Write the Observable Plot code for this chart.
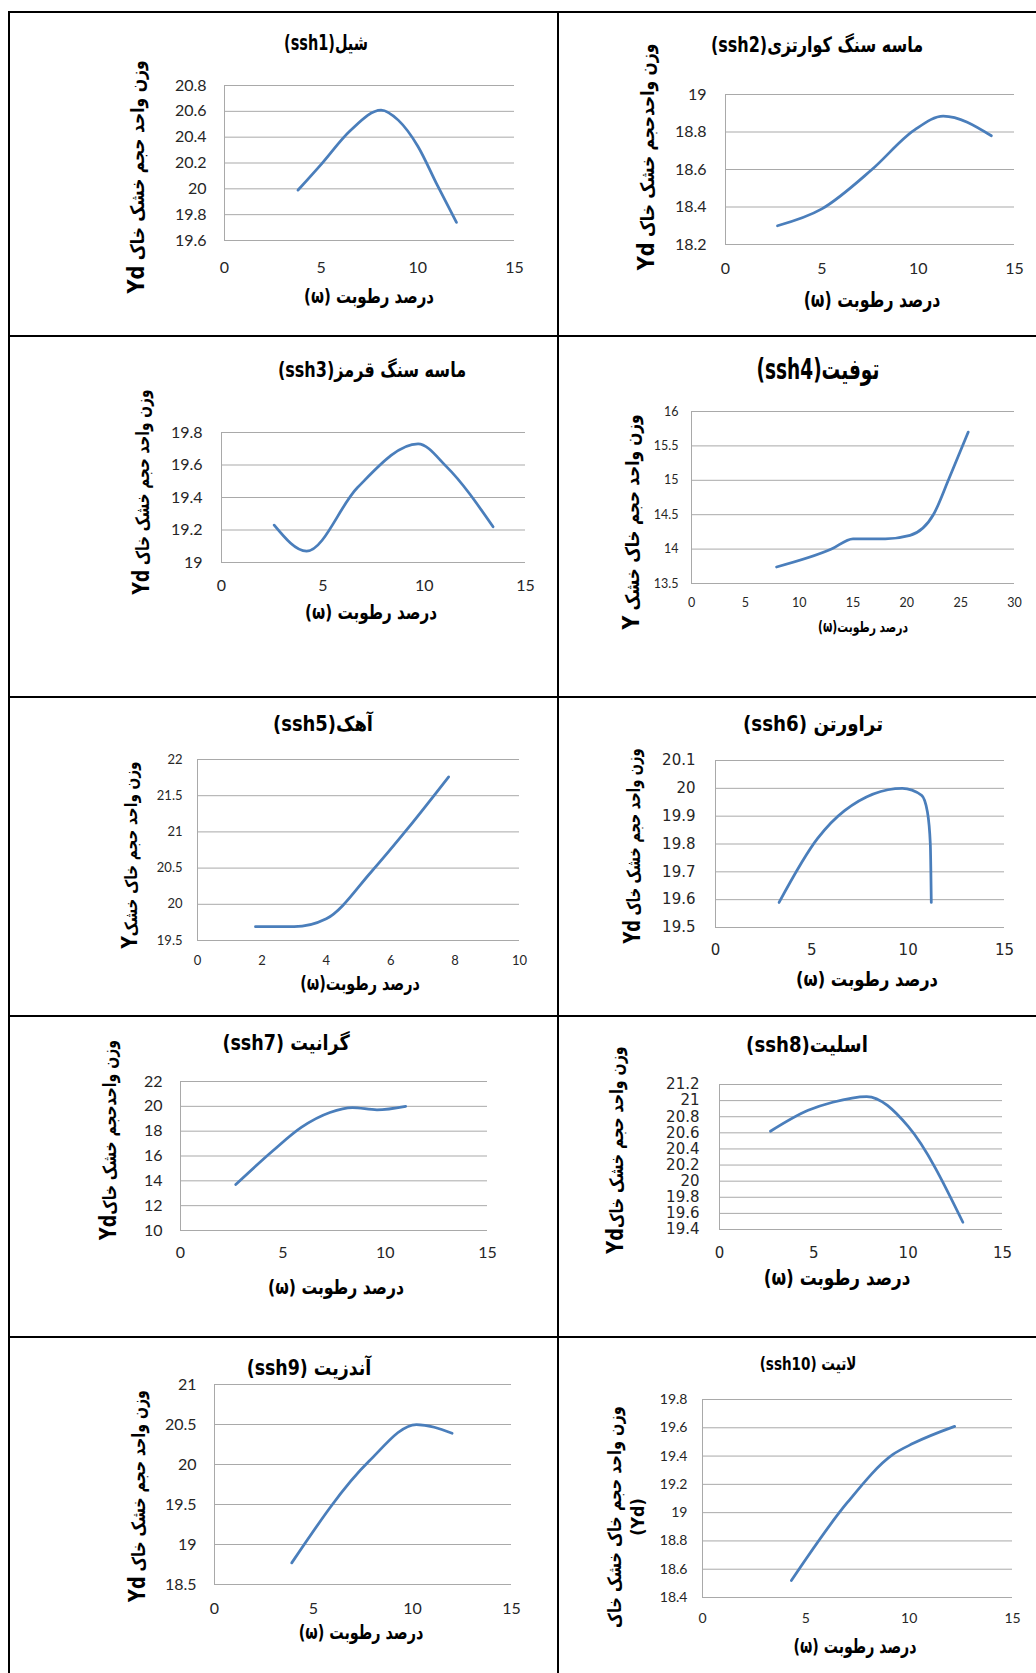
<!DOCTYPE html>
<html>
<head>
<meta charset="utf-8">
<script src="https://cdn.jsdelivr.net/npm/d3@7"></script>
<script src="https://cdn.jsdelivr.net/npm/@observablehq/plot@0.6"></script>
<style>
  html, body { margin: 0; padding: 0; background: #fff; }
  #page { position: relative; width: 1036px; height: 1673px; overflow: hidden; background: #fff; }
  .hl { position: absolute; height: 2px; background: #000; }
  .vl { position: absolute; width: 2px; background: #000; }
  .lbl { position: absolute; left: 0; top: 0; white-space: nowrap; direction: rtl;
         font-family: "DejaVu Sans", sans-serif; font-weight: bold; color: #000; line-height: 1.15; }
  .lbl .yd { font-size: 1.25em; }
  svg.plot-cell { position: absolute; background: transparent !important; overflow: visible; }
</style>
</head>
<body>
<div id="page"></div>
<script>
// ---------------- DATA ----------------
const titles = ["شیل(ssh1)", "ماسه سنگ کوارتزی(ssh2)", "ماسه سنگ قرمز(ssh3)", "توفیت(ssh4)", "آهک(ssh5)",
                "تراورتن  (ssh6)", "گرانیت (ssh7)", "اسلیت(ssh8)", "آندزیت (ssh9)", "لاتیت (ssh10)"];
const xTitles = ["درصد رطوبت (ω)", "درصد رطوبت (ω)", "درصد رطوبت (ω)", "درصد رطوبت(ω)", "درصد رطوبت(ω)",
                 "درصد رطوبت (ω)", "درصد رطوبت (ω)", "درصد رطوبت (ω)", "درصد رطوبت (ω)", "درصد رطوبت (ω)"];
const yTitles = ["وزن واحد حجم خشک خاک ", "وزن واحدحجم خشک خاک ", "وزن واحد حجم خشک خاک ", "وزن واحد حجم خاک خشک ",
                 "وزن واحد حجم خاک خشک", "وزن واحد حجم خشک خاک ", "وزن واحدحجم خشک خاک", "وزن واحد حجم خشک خاک",
                 "وزن واحد حجم خشک خاک ", "وزن واحد حجم خاک خشک خاک"];
const ySymbols = ["Yd", "Yd", "Yd", "Y", "Y", "Yd", "Yd", "Yd", "Yd", "(Yd)"];

const xTicks15 = [0, 5, 10, 15];
const xTicks30 = [0, 5, 10, 15, 20, 25, 30];
const xTicks10 = [0, 2, 4, 6, 8, 10];

const ssh1YTicks = [19.6, 19.8, 20, 20.2, 20.4, 20.6, 20.8];
const ssh2YTicks = [18.2, 18.4, 18.6, 18.8, 19];
const ssh3YTicks = [19, 19.2, 19.4, 19.6, 19.8];
const ssh4YTicks = [13.5, 14, 14.5, 15, 15.5, 16];
const ssh5YTicks = [19.5, 20, 20.5, 21, 21.5, 22];
const ssh6YTicks = [19.5, 19.6, 19.7, 19.8, 19.9, 20, 20.1];
const ssh7YTicks = [10, 12, 14, 16, 18, 20, 22];
const ssh8YTicks = [19.4, 19.6, 19.8, 20, 20.2, 20.4, 20.6, 20.8, 21, 21.2];
const ssh9YTicks = [18.5, 19, 19.5, 20, 20.5, 21];
const ssh10YTicks = [18.4, 18.6, 18.8, 19, 19.2, 19.4, 19.6, 19.8];

const ssh1W  = [3.8, 5, 6.5, 8.1, 9, 10, 11, 12];
const ssh1Yd = [19.99, 20.19, 20.45, 20.61, 20.53, 20.33, 20.03, 19.74];
const ssh2W  = [2.7, 5, 7.6, 9.8, 11.3, 13.8];
const ssh2Yd = [18.3, 18.39, 18.6, 18.81, 18.885, 18.78];
const ssh3W  = [2.6, 4.2, 6.7, 9.7, 11.1, 13.4];
const ssh3Yd = [19.23, 19.07, 19.46, 19.73, 19.59, 19.22];
const ssh4W  = [7.9, 13, 15, 18, 20.3, 22.5, 23.9, 25.7];
const ssh4Yd = [13.74, 14.0, 14.15, 14.15, 14.2, 14.51, 15.02, 15.7];
const ssh5W  = [1.8, 3, 4, 5.4, 6.5, 7.8];
const ssh5Yd = [19.69, 19.69, 19.8, 20.45, 21.03, 21.76];
const ssh6W  = [3.3, 5.3, 6.7, 9.7, 10.7, 11.0, 11.15, 11.2];
const ssh6Yd = [19.59, 19.82, 19.92, 20.0, 19.975, 19.915, 19.8, 19.59];
const ssh7W  = [2.7, 4.5, 5.9, 7.3, 8.4, 9.6, 11];
const ssh7Yd = [13.7, 16.4, 18.3, 19.5, 19.9, 19.72, 20.0];
const ssh8W  = [2.7, 4.7, 6, 7.8, 10, 12.9];
const ssh8Yd = [20.62, 20.88, 20.98, 21.05, 20.68, 19.49];
const ssh9W  = [3.9, 7.8, 10.2, 12];
const ssh9Yd = [18.77, 20.04, 20.5, 20.39];
const ssh10W  = [4.3, 7, 9.2, 10.2, 12.2];
const ssh10Yd = [18.52, 19.07, 19.41, 19.49, 19.61];

// ---------------- LAYOUT ----------------
const page = document.getElementById("page");
const hLines = [11, 335, 696, 1015, 1336];
hLines.forEach(y => { const d = document.createElement("div"); d.className = "hl";
  d.style.left = "8px"; d.style.top = y + "px"; d.style.width = "1028px"; page.appendChild(d); });
[8, 557].forEach(x => { const d = document.createElement("div"); d.className = "vl";
  d.style.left = x + "px"; d.style.top = "11px"; d.style.height = "1662px"; page.appendChild(d); });

const LATO = "Lato, 'Liberation Sans', sans-serif";
const DEJAVU = "'DejaVu Sans', sans-serif";
// t/xl/yl: [centerX, centerY, targetLength, fontSize]
const panels = [
  {W: ssh1W, Yd: ssh1Yd, xt: xTicks15, yt: ssh1YTicks, x0: 224, x1: 514, y0: 85, y1: 240, font: LATO, fs: 16, xPad: 21, yPad: 18,
   t: [326, 43, 84, 21], xl: [369, 296, 130, 20], yl: [137, 177, 233, 19]},
  {W: ssh2W, Yd: ssh2Yd, xt: xTicks15, yt: ssh2YTicks, x0: 725, x1: 1014, y0: 94, y1: 244, font: LATO, fs: 16, xPad: 18.5, yPad: 19,
   t: [817, 45, 212, 21], xl: [872, 300, 137, 21], yl: [647, 157, 227, 19]},
  {W: ssh3W, Yd: ssh3Yd, xt: xTicks15, yt: ssh3YTicks, x0: 221, x1: 525, y0: 432, y1: 562, font: LATO, fs: 16, xPad: 17, yPad: 19,
   t: [372, 370, 188, 21], xl: [371, 612, 132, 20], yl: [141, 492, 205, 18.5]},
  {W: ssh4W, Yd: ssh4Yd, xt: xTicks30, yt: ssh4YTicks, x0: 691, x1: 1014, y0: 411, y1: 583, font: LATO, fs: 12.5, xPad: 14.5, yPad: 13,
   t: [818, 370, 123, 28], xl: [863, 628, 90, 15], yl: [632, 522, 215, 19]},
  {W: ssh5W, Yd: ssh5Yd, xt: xTicks10, yt: ssh5YTicks, x0: 197, x1: 519, y0: 759, y1: 940, font: LATO, fs: 13, xPad: 15, yPad: 15,
   t: [323, 724, 100, 21], xl: [360, 984, 120, 19], yl: [130, 855, 187, 17]},
  {W: ssh6W, Yd: ssh6Yd, xt: xTicks15, yt: ssh6YTicks, x0: 715, x1: 1004, y0: 760, y1: 927, font: DEJAVU, fs: 15, xPad: 17, yPad: 20,
   t: [813, 724, 140, 21], xl: [867, 979, 142, 20], yl: [633, 846, 195, 18]},
  {W: ssh7W, Yd: ssh7Yd, xt: xTicks15, yt: ssh7YTicks, x0: 180, x1: 487, y0: 1081, y1: 1230, font: LATO, fs: 16, xPad: 16.5, yPad: 18,
   t: [286, 1043, 127, 21], xl: [336, 1287, 136, 20], yl: [109, 1140, 200, 18]},
  {W: ssh8W, Yd: ssh8Yd, xt: xTicks15, yt: ssh8YTicks, x0: 719, x1: 1002, y0: 1084, y1: 1229, font: DEJAVU, fs: 15, xPad: 17.5, yPad: 20,
   t: [807, 1045, 122, 22], xl: [837, 1278, 147, 21], yl: [615, 1150, 207, 18.5]},
  {W: ssh9W, Yd: ssh9Yd, xt: xTicks15, yt: ssh9YTicks, x0: 214, x1: 511, y0: 1384, y1: 1584, font: LATO, fs: 16, xPad: 18.5, yPad: 18,
   t: [309, 1368, 125, 21], xl: [361, 1633, 125, 19.5], yl: [137, 1496, 212, 18.5]},
  {W: ssh10W, Yd: ssh10Yd, xt: xTicks15, yt: ssh10YTicks, x0: 702, x1: 1012, y0: 1399, y1: 1597, font: LATO, fs: 14, xPad: 16, yPad: 15,
   t: [808, 1364, 97, 18], xl: [855, 1646, 123, 20], yl: [615, 1517, 222, 18.5], yl2: [638, 1517, 37, 18]}
];

const fmt = d => String(Math.round(d * 10) / 10);

function addLabel(parts, spec, rotate) {
  const [cx, cy, target, fs] = spec;
  const d = document.createElement("div");
  d.className = "lbl";
  parts.forEach(([txt, cls]) => {
    if (cls) { const s = document.createElement("span"); s.className = cls; s.textContent = txt; d.appendChild(s); }
    else d.appendChild(document.createTextNode(txt));
  });
  d.style.fontSize = fs + "px";
  page.appendChild(d);
  const w = d.offsetWidth;
  let s = target / w;
  let size = fs;
  if (s < 0.6) { size = fs * s / 0.6; s = 0.6; }
  if (s > 1.2) { size = fs * s / 1.2; s = 1.2; }
  d.style.fontSize = size + "px";
  d.style.left = cx + "px";
  d.style.top = cy + "px";
  d.style.transform = "translate(-50%,-50%)" + (rotate ? " rotate(-90deg)" : "") + ` scaleX(${s})`;
}

const ml = 60, mr = 20, mt = 10, mb = 40;
panels.forEach((p, i) => {
  const rows = p.W.map((w, k) => ({w, yd: p.Yd[k]}));
  const chart = Plot.plot({
    width: p.x1 - p.x0 + ml + mr,
    height: p.y1 - p.y0 + mt + mb,
    marginLeft: ml, marginRight: mr, marginTop: mt, marginBottom: mb,
    style: {fontFamily: p.font, fontSize: p.fs + "px", color: "#262626", background: "transparent", overflow: "visible"},
    x: {domain: [p.xt[0], p.xt[p.xt.length - 1]], label: null},
    y: {domain: [p.yt[0], p.yt[p.yt.length - 1]], label: null},
    marks: [
      Plot.gridY(p.yt, {stroke: "#a9a9a9", strokeOpacity: 1, strokeWidth: 1}),
      Plot.ruleX([p.xt[0]], {stroke: "#a9a9a9", strokeWidth: 1}),
      Plot.axisX(p.xt, {tickSize: 0, tickPadding: p.xPad, tickFormat: fmt, label: null}),
      Plot.axisY(p.yt, {tickSize: 0, tickPadding: p.yPad, tickFormat: fmt, label: null}),
      Plot.line(rows, {x: "w", y: "yd", curve: "monotone-x", stroke: "#4a7ebb", strokeWidth: 2.75,
                       strokeLinecap: "round", strokeLinejoin: "round"})
    ]
  });
  chart.classList.add("plot-cell");
  chart.style.left = (p.x0 - ml) + "px";
  chart.style.top = (p.y0 - mt) + "px";
  page.appendChild(chart);

  addLabel([[titles[i]]], p.t, false);
  addLabel([[xTitles[i]]], p.xl, false);
  if (p.yl2) {
    addLabel([[yTitles[i]]], p.yl, true);
    addLabel([[ySymbols[i]]], p.yl2, true);
  } else {
    addLabel([[yTitles[i]], [ySymbols[i], "yd"]], p.yl, true);
  }
});
</script>
</body>
</html>
